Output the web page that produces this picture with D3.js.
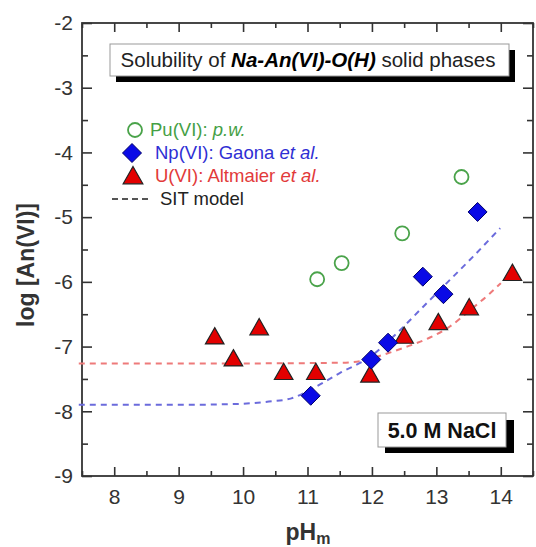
<!DOCTYPE html>
<html>
<head>
<meta charset="utf-8">
<script src="https://cdn.jsdelivr.net/npm/d3@7"></script>
<style>
  body { margin: 0; background: #fff; }
  svg text { font-family: "Liberation Sans", Arial, sans-serif; }
</style>
</head>
<body>
<svg id="drawing_region"></svg>
<script>
// --- data ---
const puData = [[11.15, -5.96], [11.53, -5.71], [12.47, -5.25], [13.39, -4.38]];
const npData = [[11.05, -7.76], [11.99, -7.20], [12.25, -6.94], [12.79, -5.92], [13.11, -6.19], [13.64, -4.92]];
const uData = [[9.56, -6.86], [9.85, -7.20], [10.25, -6.72], [10.63, -7.41], [11.13, -7.41],
               [11.97, -7.45], [12.50, -6.85], [13.03, -6.64], [13.51, -6.41], [14.18, -5.88]];
const sitNp = [[7.45, -7.90], [9.0, -7.90], [9.8, -7.89], [10.4, -7.85], [10.75, -7.80], [11.04, -7.67],
               [11.5, -7.41], [11.97, -7.16], [12.38, -6.80], [12.8, -6.38], [13.21, -5.97], [13.57, -5.61], [13.99, -5.17]];
const sitU = [[7.45, -7.26], [10.0, -7.26], [11.5, -7.25], [11.85, -7.22], [12.07, -7.16], [12.49, -7.02],
              [12.9, -6.86], [13.21, -6.69], [13.52, -6.44], [13.83, -6.18], [14.0, -6.02]];
const xTicks = [8, 9, 10, 11, 12, 13, 14];
const yTicks = [-9, -8, -7, -6, -5, -4, -3, -2];

const config = {
    width: 536,
    height: 547,
    margin: {top: 23, right: 3, bottom: 71, left: 82}
};

const svg = d3.select('#drawing_region')
    .attr('width', config.width)
    .attr('height', config.height);

const inner_width = config.width - config.margin.left - config.margin.right;
const inner_height = config.height - config.margin.top - config.margin.bottom;

const chart = svg.append('g')
    .attr('transform', `translate(${config.margin.left}, ${config.margin.top})`);

const xscale = d3.scaleLinear().domain([7.5, 14.5]).range([0, inner_width]);
const yscale = d3.scaleLinear().domain([-9, -2]).range([inner_height, 0]);

const xMinor = d3.range(7.5, 14.51, 0.5).filter(v => v % 1 !== 0);
const yMinor = d3.range(-8.5, -2, 1);

const axisColor = '#333';

// minor ticks (all four sides)
chart.append('g').attr('transform', `translate(0, ${inner_height})`)
    .call(d3.axisBottom(xscale).tickValues(xMinor).tickSize(-5).tickFormat(''));
chart.append('g')
    .call(d3.axisTop(xscale).tickValues(xMinor).tickSize(-5).tickFormat(''));
chart.append('g')
    .call(d3.axisLeft(yscale).tickValues(yMinor).tickSize(-6).tickFormat(''));
chart.append('g').attr('transform', `translate(${inner_width}, 0)`)
    .call(d3.axisRight(yscale).tickValues(yMinor).tickSize(-6).tickFormat(''));

// major ticks
chart.append('g').attr('transform', `translate(0, ${inner_height})`)
    .call(d3.axisBottom(xscale).tickValues(xTicks).tickSize(-9).tickPadding(13).tickFormat(d3.format('d')));
chart.append('g')
    .call(d3.axisTop(xscale).tickValues(xTicks).tickSize(-9).tickFormat(''));
chart.append('g')
    .call(d3.axisLeft(yscale).tickValues(yTicks).tickSize(-10).tickPadding(9).tickFormat(d => d3.format('d')(d).replace('−', '-')));
chart.append('g').attr('transform', `translate(${inner_width}, 0)`)
    .call(d3.axisRight(yscale).tickValues(yTicks).tickSize(-10).tickFormat(''));

chart.selectAll('.domain').remove();
chart.selectAll('.tick line').attr('stroke', axisColor).attr('stroke-width', 1.6);
chart.selectAll('.tick text').attr('fill', '#333').attr('font-size', '21px')
    .style('font-family', '"Liberation Sans", Arial, sans-serif');

// frame
chart.append('rect')
    .attr('width', inner_width).attr('height', inner_height)
    .attr('fill', 'none').attr('stroke', axisColor).attr('stroke-width', 1.8);

// axis titles
const xt = svg.append('text')
    .attr('x', 308).attr('y', 540)
    .attr('text-anchor', 'middle')
    .attr('font-size', '23px').attr('font-weight', 'bold').attr('fill', '#333');
xt.append('tspan').text('pH');
xt.append('tspan').attr('font-size', '16px').attr('dy', 4).text('m');

svg.append('text')
    .attr('transform', 'translate(34, 265) rotate(-90)')
    .attr('text-anchor', 'middle')
    .attr('font-size', '23px').attr('font-weight', 'bold').attr('fill', '#333')
    .text('log [An(VI)]');

// SIT model curves
const line = d3.line().x(d => xscale(d[0])).y(d => yscale(d[1])).curve(d3.curveMonotoneX);
chart.append('path').datum(sitU)
    .attr('d', line).attr('fill', 'none')
    .attr('stroke', '#ee7a7a').attr('stroke-width', 2).attr('stroke-dasharray', '6,5');
chart.append('path').datum(sitNp)
    .attr('d', line).attr('fill', 'none')
    .attr('stroke', '#6b6bdc').attr('stroke-width', 2).attr('stroke-dasharray', '6,5');

// marker shapes
const triPath = s => `M0,${-s * 0.62}L${s * 0.58},${s * 0.4}L${-s * 0.58},${s * 0.4}Z`;
const diaPath = s => `M0,${-s}L${s},0L0,${s}L${-s},0Z`;

chart.selectAll('.pu').data(puData).enter().append('circle')
    .attr('cx', d => xscale(d[0])).attr('cy', d => yscale(d[1])).attr('r', 7)
    .attr('fill', 'none').attr('stroke', '#4aa34a').attr('stroke-width', 1.8);

chart.selectAll('.u').data(uData).enter().append('path')
    .attr('transform', d => `translate(${xscale(d[0])}, ${yscale(d[1])})`)
    .attr('d', triPath(16))
    .attr('fill', '#e30000').attr('stroke', '#222').attr('stroke-width', 1.2);

chart.selectAll('.np').data(npData).enter().append('path')
    .attr('transform', d => `translate(${xscale(d[0])}, ${yscale(d[1])})`)
    .attr('d', diaPath(9.5))
    .attr('fill', '#0a0ae6').attr('stroke', '#00006a').attr('stroke-width', 1);

// legend
const legend = svg.append('g');
legend.append('circle').attr('cx', 135).attr('cy', 130).attr('r', 7)
    .attr('fill', 'none').attr('stroke', '#4aa34a').attr('stroke-width', 1.8);
legend.append('path').attr('transform', 'translate(132, 153)').attr('d', diaPath(9.5))
    .attr('fill', '#0a0ae6').attr('stroke', '#00006a').attr('stroke-width', 1);
legend.append('path').attr('transform', 'translate(133, 177)').attr('d', triPath(17))
    .attr('fill', '#e30000').attr('stroke', '#222').attr('stroke-width', 1.2);
legend.append('line').attr('x1', 112).attr('x2', 150).attr('y1', 199).attr('y2', 199)
    .attr('stroke', '#555').attr('stroke-width', 2).attr('stroke-dasharray', '6,4');

const legendRows = [
    {y: 136, x: 150, color: '#45a045', parts: [['Pu(VI): ', false], ['p.w.', true]]},
    {y: 159, x: 155, color: '#2f2fd4', parts: [['Np(VI): Gaona ', false], ['et al.', true]]},
    {y: 182, x: 155, color: '#e23a3a', parts: [['U(VI): Altmaier ', false], ['et al.', true]]},
    {y: 205, x: 160, color: '#222', parts: [['SIT model', false]]}
];
legendRows.forEach(r => {
    const t = legend.append('text').attr('x', r.x).attr('y', r.y)
        .attr('font-size', '18.5px').attr('fill', r.color);
    r.parts.forEach(p => t.append('tspan').attr('font-style', p[1] ? 'italic' : 'normal')
        .attr('xml:space', 'preserve').text(p[0]));
});

// title box
svg.append('rect').attr('x', 116).attr('y', 50).attr('width', 399).attr('height', 32).attr('fill', '#000');
svg.append('rect').attr('x', 110).attr('y', 44).attr('width', 399).attr('height', 32)
    .attr('fill', '#fff').attr('stroke', '#999').attr('stroke-width', 1);
const tt = svg.append('text').attr('x', 308).attr('y', 67).attr('text-anchor', 'middle')
    .attr('font-size', '20.5px').attr('fill', '#222');
tt.append('tspan').text('Solubility of ');
tt.append('tspan').attr('font-weight', 'bold').attr('font-style', 'italic').attr('fill', '#000').text('Na-An(VI)-O(H)');
tt.append('tspan').text(' solid phases');

// NaCl box
svg.append('rect').attr('x', 385).attr('y', 420).attr('width', 129).attr('height', 33).attr('fill', '#000');
svg.append('rect').attr('x', 378).attr('y', 413).attr('width', 128).attr('height', 34)
    .attr('fill', '#fff').attr('stroke', '#999').attr('stroke-width', 1);
svg.append('text').attr('x', 442).attr('y', 438).attr('text-anchor', 'middle')
    .attr('font-size', '21.5px').attr('font-weight', 'bold').attr('fill', '#111')
    .text('5.0 M NaCl');
</script>
</body>
</html>
